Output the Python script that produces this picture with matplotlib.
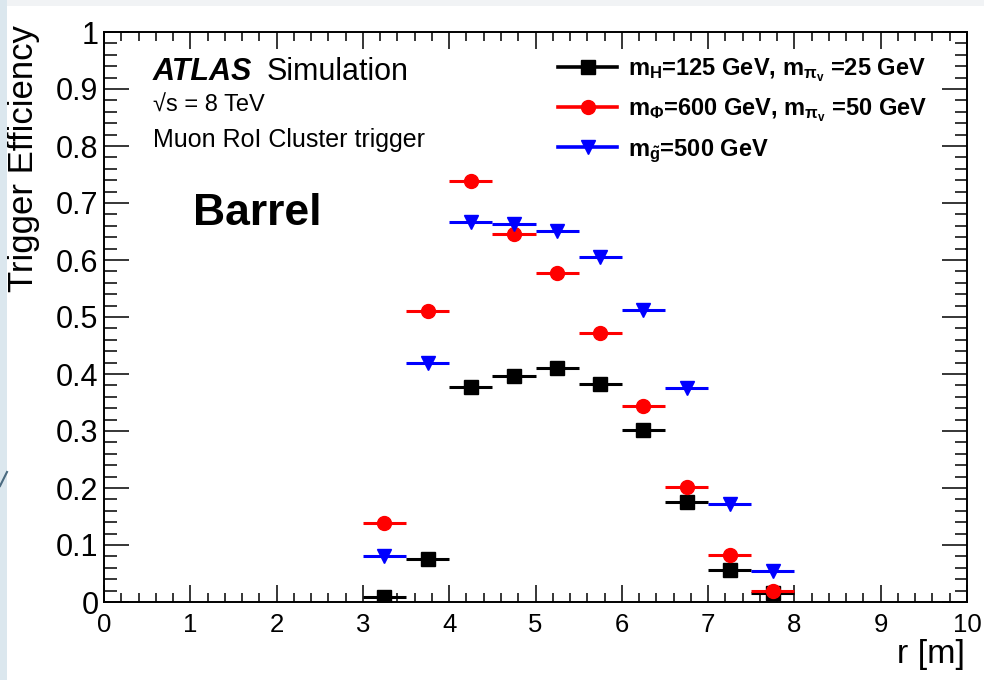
import matplotlib
matplotlib.use("Agg")
import matplotlib.pyplot as plt
from matplotlib.patches import Rectangle
from matplotlib.lines import Line2D
from matplotlib.ticker import MultipleLocator

plt.rcParams['font.family'] = ['Liberation Sans', 'DejaVu Sans']
plt.rcParams['mathtext.fontset'] = 'custom'
plt.rcParams['mathtext.rm'] = 'Liberation Sans'
plt.rcParams['mathtext.it'] = 'Liberation Sans:italic'
plt.rcParams['mathtext.bf'] = 'Liberation Sans:bold'
plt.rcParams['mathtext.default'] = 'bf'

# bin centres in r [m], each bin 0.5 m wide
r_centres = [3.25, 3.75, 4.25, 4.75, 5.25, 5.75, 6.25, 6.75, 7.25, 7.75]
r_half_width = 0.25

eff_higgs = [0.008, 0.075, 0.378, 0.397, 0.411, 0.382, 0.301, 0.175, 0.057, 0.016]
eff_phi = [0.139, 0.510, 0.739, 0.646, 0.578, 0.472, 0.343, 0.201, 0.082, 0.019]
eff_gluino = [0.081, 0.420, 0.667, 0.664, 0.651, 0.605, 0.513, 0.375, 0.172, 0.054]

labels = [
    r'm$_{H}$=125 GeV, m$_{\pi_{v}}$ =25 GeV',
    r'm$_{\Phi}$=600 GeV, m$_{\pi_{v}}$ =50 GeV',
    r'm$_{\tilde{g}}$=500 GeV',
]
colors = ['black', '#ff0000', '#0000ff']
markers = ['s', 'o', 'v']
sizes = [10.5, 10, 10]

fig = plt.figure(figsize=(9.84, 6.8), dpi=100)
fig.patch.set_facecolor('white')

# slide background strips around the white plot area
fig.patches.append(Rectangle((0, 0), 7 / 984, 1, transform=fig.transFigure,
                             facecolor='#dbe7ee', edgecolor='none', zorder=0))
fig.patches.append(Rectangle((7 / 984, 1 - 6 / 680), 1, 6 / 680, transform=fig.transFigure,
                             facecolor='#f1f3f5', edgecolor='none', zorder=0))
fig.lines.append(Line2D([0, 7 / 984], [1 - 486 / 680, 1 - 472 / 680], transform=fig.transFigure,
                        color='#4a6a80', lw=1.5))

ax = fig.add_axes([104 / 984, 78 / 680, 863 / 984, 570 / 680])

series = [eff_higgs, eff_phi, eff_gluino]
for i, eff in enumerate(series):
    ax.errorbar(r_centres, eff, xerr=r_half_width, fmt=markers[i], color=colors[i],
                ms=sizes[i], linestyle='none', elinewidth=2.2, capsize=0, zorder=3 + i)

ax.set_xlim(0, 10)
ax.set_ylim(0, 1)
ax.xaxis.set_major_locator(MultipleLocator(1))
ax.xaxis.set_minor_locator(MultipleLocator(0.2))
ax.yaxis.set_minor_locator(MultipleLocator(0.02))
ax.set_yticks([0, 0.1, 0.2, 0.3, 0.4, 0.5, 0.6, 0.7, 0.8, 0.9, 1.0],
              ['0', '0.1', '0.2', '0.3', '0.4', '0.5', '0.6', '0.7', '0.8', '0.9', '1'])

ax.tick_params(which='both', direction='in', top=True, right=True, width=1.1)
ax.tick_params(axis='x', which='major', length=12, labelsize=18.5, pad=8)
ax.tick_params(axis='x', which='minor', length=6.5)
ax.tick_params(axis='y', which='major', length=18, labelsize=22, pad=4)
ax.tick_params(axis='y', which='minor', length=9)
for s in ax.spines.values():
    s.set_linewidth(1.4)

ax.set_ylabel('Trigger Efficiency', fontsize=25, loc='top')
ax.yaxis.set_label_coords(-0.074, 1.012)
ax.set_xlabel('r [m]', fontsize=24.5, loc='right')
ax.xaxis.set_label_coords(0.9977, -0.065)

fig.text(153 / 984, 1 - 80 / 680, 'ATLAS', fontsize=22, fontweight='bold',
         fontstyle='italic', va='baseline')
fig.text(267 / 984, 1 - 80 / 680, 'Simulation', fontsize=22, va='baseline')
fig.text(153 / 984, 1 - 112 / 680, '√s = 8 TeV', fontsize=17, va='baseline')
fig.text(153 / 984, 1 - 147 / 680, 'Muon RoI Cluster trigger', fontsize=18, va='baseline')
fig.text(193 / 984, 1 - 225 / 680, 'Barrel', fontsize=32, fontweight='bold', va='baseline')

handles = [Line2D([], [], color=colors[i], marker=markers[i], ms=sizes[i], lw=2.6)
           for i in range(3)]
ax.legend(handles, labels, loc='upper left', bbox_to_anchor=(558 / 984, 1 - 56 / 680),
          bbox_transform=fig.transFigure, frameon=False,
          prop={'weight': 'bold', 'size': 17}, handlelength=2.5,
          handletextpad=0.45, labelspacing=0.55, borderpad=0, borderaxespad=0)

fig.savefig('out.png', dpi=100, facecolor=fig.get_facecolor())
